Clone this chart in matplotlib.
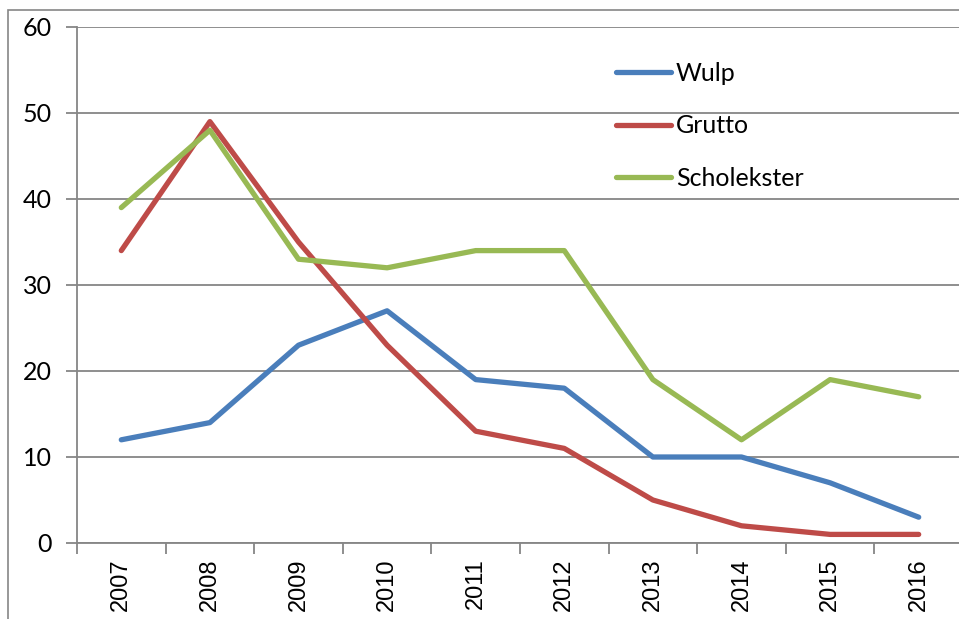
import matplotlib
matplotlib.use("Agg")
import matplotlib.pyplot as plt
import numpy as np
from matplotlib.patches import Rectangle

years = ['2007', '2008', '2009', '2010', '2011', '2012', '2013', '2014', '2015', '2016']
wulp = [12, 14, 23, 27, 19, 18, 10, 10, 7, 3]
grutto = [34, 49, 35, 23, 13, 11, 5, 2, 1, 1]
scholekster = [39, 48, 33, 32, 34, 34, 19, 12, 19, 17]

W, H = 959, 619
grey = '#868686'

fig = plt.figure(figsize=(W / 100, H / 100), dpi=100)
# outer chart frame (runs off the right and bottom of the picture)
fig.patches.append(Rectangle((8 / W, -0.2), 1.2, 1.2 - 10 / H + 0.0,
                             transform=fig.transFigure, fill=False,
                             edgecolor=grey, linewidth=1.2))

left, right = 77 / W, 963 / W
bottom, top = (H - 543) / H, (H - 27) / H
ax = fig.add_axes([left, bottom, right - left, top - bottom])

xpos = np.arange(len(years))
lw = 3.8
ax.plot(xpos, wulp, color='#4A7EBB', lw=lw, label='Wulp',
        solid_capstyle='round', solid_joinstyle='round', zorder=3)
ax.plot(xpos, grutto, color='#BE4B48', lw=lw, label='Grutto',
        solid_capstyle='round', solid_joinstyle='round', zorder=3)
ax.plot(xpos, scholekster, color='#98B954', lw=lw, label='Scholekster',
        solid_capstyle='round', solid_joinstyle='round', zorder=3)

ax.set_xlim(-0.5, len(years) - 0.5)
ax.set_ylim(0, 60)
ax.set_yticks(np.arange(0, 61, 10))
ax.yaxis.grid(True, color=grey, linewidth=1.3)
ax.set_axisbelow(True)

ax.set_xticks(xpos)
ax.set_xticklabels(years, rotation=90, fontsize=17, family='Liberation Sans')
ax.set_xticks(np.arange(-0.5, len(years), 1), minor=True)
ax.tick_params(axis='x', which='major', length=0, pad=11)
ax.tick_params(axis='x', which='minor', length=8, width=1.3, color=grey)
ax.tick_params(axis='y', length=8, width=1.3, color=grey, pad=10)
for lab in ax.get_yticklabels():
    lab.set_fontsize(18)
    lab.set_family('Lato')

for s in ['top', 'right']:
    ax.spines[s].set_visible(False)
for s in ['left', 'bottom']:
    ax.spines[s].set_color(grey)
    ax.spines[s].set_linewidth(1.3)

ax.legend(loc='upper left', bbox_to_anchor=(616 / W, 1 - 62 / H),
          bbox_transform=fig.transFigure, frameon=False, borderpad=0,
          borderaxespad=0, prop={'family': 'Lato', 'size': 18},
          handlelength=2.2, handletextpad=0.2, labelspacing=1.17)

fig.savefig('out.png', dpi=100)
